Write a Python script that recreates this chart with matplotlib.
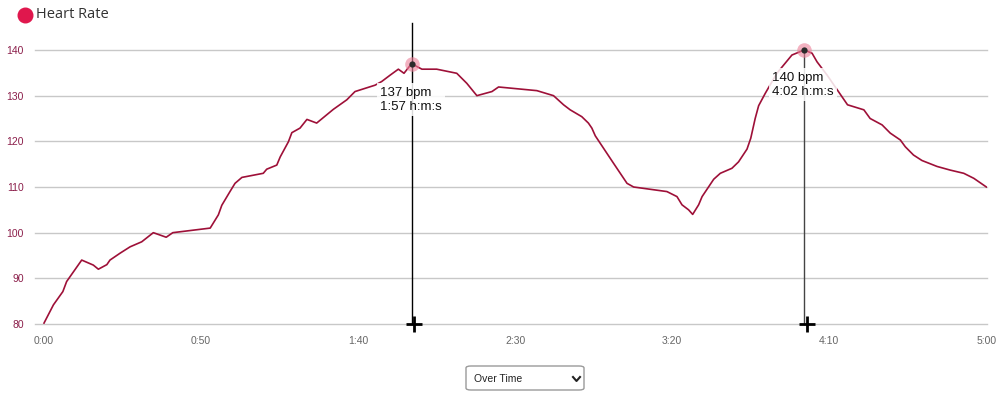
import matplotlib
matplotlib.use("Agg")
import matplotlib.pyplot as plt
from matplotlib.patches import FancyBboxPatch
from matplotlib.lines import Line2D

# minutes since start, heart rate (bpm)
minutes = [0, 3, 6, 7.2, 12, 15.7, 17.3, 20, 21, 24.2, 27.4, 31.1, 34.8, 38.9, 41,
           52.9, 55.5, 56.6, 59.2, 60.8, 63, 69.8, 70.9, 74.1, 75.2, 77.8, 78.9,
           81.5, 83.7, 86.8, 92.1, 96.4, 99, 105.4, 107.5, 110.2, 112.8, 114.6,
           117, 120.3, 125, 131.4, 134.6, 137.8, 142.6, 144.7, 156.9, 162.2,
           165.4, 167.5, 171.2, 173.3, 174.4, 175.5, 181.3, 185.6, 187.7, 198.3,
           201.5, 203.1, 205.2, 206.5, 208.4, 209.5, 213.2, 215.3, 219, 221.1,
           223.8, 225, 226.4, 227.5, 229.6, 233.3, 238.1, 242, 244.5, 246.1,
           249.3, 255.8, 261, 263, 266.8, 269.4, 272.6, 274.2, 276.8, 279.5,
           284.3, 288.5, 292.8, 296, 300]
bpm = [80.2, 84.2, 87.1, 89.3, 94, 92.9, 92, 93, 94, 95.5, 96.9, 98, 100, 99, 100,
       101, 103.9, 106, 109, 110.8, 112.1, 113, 113.9, 114.8, 116.6, 119.9, 121.9,
       122.9, 124.8, 124, 127, 129.1, 130.9, 132.3, 133.1, 134.5, 135.8, 134.9,
       137, 135.8, 135.8, 134.9, 132.7, 130, 130.9, 131.9, 131.1, 130,
       128, 126.9, 125.4, 124, 122.9, 121.2, 115.2, 110.8, 110, 109,
       107.9, 106.1, 105, 104, 106.1, 107.9, 111.7, 113, 114.1, 115.5,
       118.3, 120.7, 125, 127.8, 130.5, 134.9, 138.9, 140, 139.3, 137.4,
       134.5, 128, 126.9, 125, 123.6, 121.8, 120.3, 118.8, 117, 115.8,
       114.5, 113.7, 113, 111.9, 110]

xticks = [0, 50, 100, 150, 200, 250, 300]
xtick_labels = ["0:00", "0:50", "1:40", "2:30", "3:20", "4:10", "5:00"]
yticks = [80, 90, 100, 110, 120, 130, 140]

# highlighted points
hl_min = [117, 242]
hl_bpm = [137, 140]
hl_text = ["137 bpm\n1:57 h:m:s", "140 bpm\n4:02 h:m:s"]

W, H = 1002, 396
fig = plt.figure(figsize=(W / 100, H / 100), dpi=100)
ax = fig.add_axes([35 / W, 1 - 324 / H, (987 - 35) / W, (324 - 50) / H])

ax.plot(minutes, bpm, color="#9e1038", lw=1.2, zorder=3, solid_joinstyle="round")

ax.set_xlim(-2.87, 300.2)
ax.set_ylim(80, 140)
ax.set_yticks(yticks)
ax.set_xticks(xticks)
ax.set_xticklabels(xtick_labels)
for y in yticks:
    ax.axhline(y, color="#c8c8c8", lw=1, zorder=1, clip_on=False)
for s in ax.spines.values():
    s.set_visible(False)
ax.tick_params(axis="both", length=0)
ax.tick_params(axis="y", pad=8, labelcolor="#8b1e4a", labelsize=7.5)
ax.tick_params(axis="x", pad=9, labelcolor="#666666", labelsize=7.5)
for lab in ax.get_xticklabels() + ax.get_yticklabels():
    lab.set_fontfamily("Liberation Sans")

# highlight markers, guide lines and labels
line_tops = [146, 140]
line_cols = ["#000000", "#444444"]
text_off = [(-22.5, -16.5), (-23, -15.5)]
for i in range(len(hl_min)):
    ax.plot([hl_min[i], hl_min[i]], [80, line_tops[i]], color=line_cols[i],
            lw=1, zorder=4, clip_on=False)
    ax.plot(hl_min[i] + 0.8, 80, marker="+", ms=12, mew=2, color="black",
            zorder=6, clip_on=False)
    ax.plot(hl_min[i], hl_bpm[i], "o", ms=10.5, color="#ec7f98", alpha=0.6,
            mec="none", zorder=5, clip_on=False)
    ax.plot(hl_min[i], hl_bpm[i], "o", ms=4.5, color="#2b2b2b", mec="none",
            zorder=6, clip_on=False)
    ax.annotate(hl_text[i], (hl_min[i], hl_bpm[i]), xytext=text_off[i],
                textcoords="offset points", ha="left", va="top",
                fontsize=9.5, family="Liberation Sans", color="#111111",
                linespacing=1.25, zorder=7,
                bbox=dict(boxstyle="square,pad=0.25", fc="white", ec="none",
                          alpha=0.85))

# legend-like title
fig.add_artist(Line2D([25 / W], [1 - 15 / H], marker="o", ms=10.5,
                      color="#e0174d", transform=fig.transFigure))
fig.text(36 / W, 1 - 15 / H, "Heart Rate", fontsize=10.5, family="Open Sans",
         color="#333333", va="center", ha="left")

# dropdown
box = FancyBboxPatch((466 / W, 1 - 390 / H), 118 / W, 24 / H,
                     boxstyle="round,pad=0,rounding_size=0.005",
                     transform=fig.transFigure, fc="white", ec="#9a9a9a", lw=1)
fig.add_artist(box)
fig.text(474 / W, 1 - 379 / H, "Over Time", fontsize=7.5,
         family="Liberation Sans", color="#222222", va="center", ha="left")
fig.add_artist(Line2D([573 / W, 576.5 / W, 580 / W],
                      [1 - 377 / H, 1 - 381 / H, 1 - 377 / H],
                      color="#222222", lw=1.5, transform=fig.transFigure))

fig.savefig("out.png", dpi=100)
